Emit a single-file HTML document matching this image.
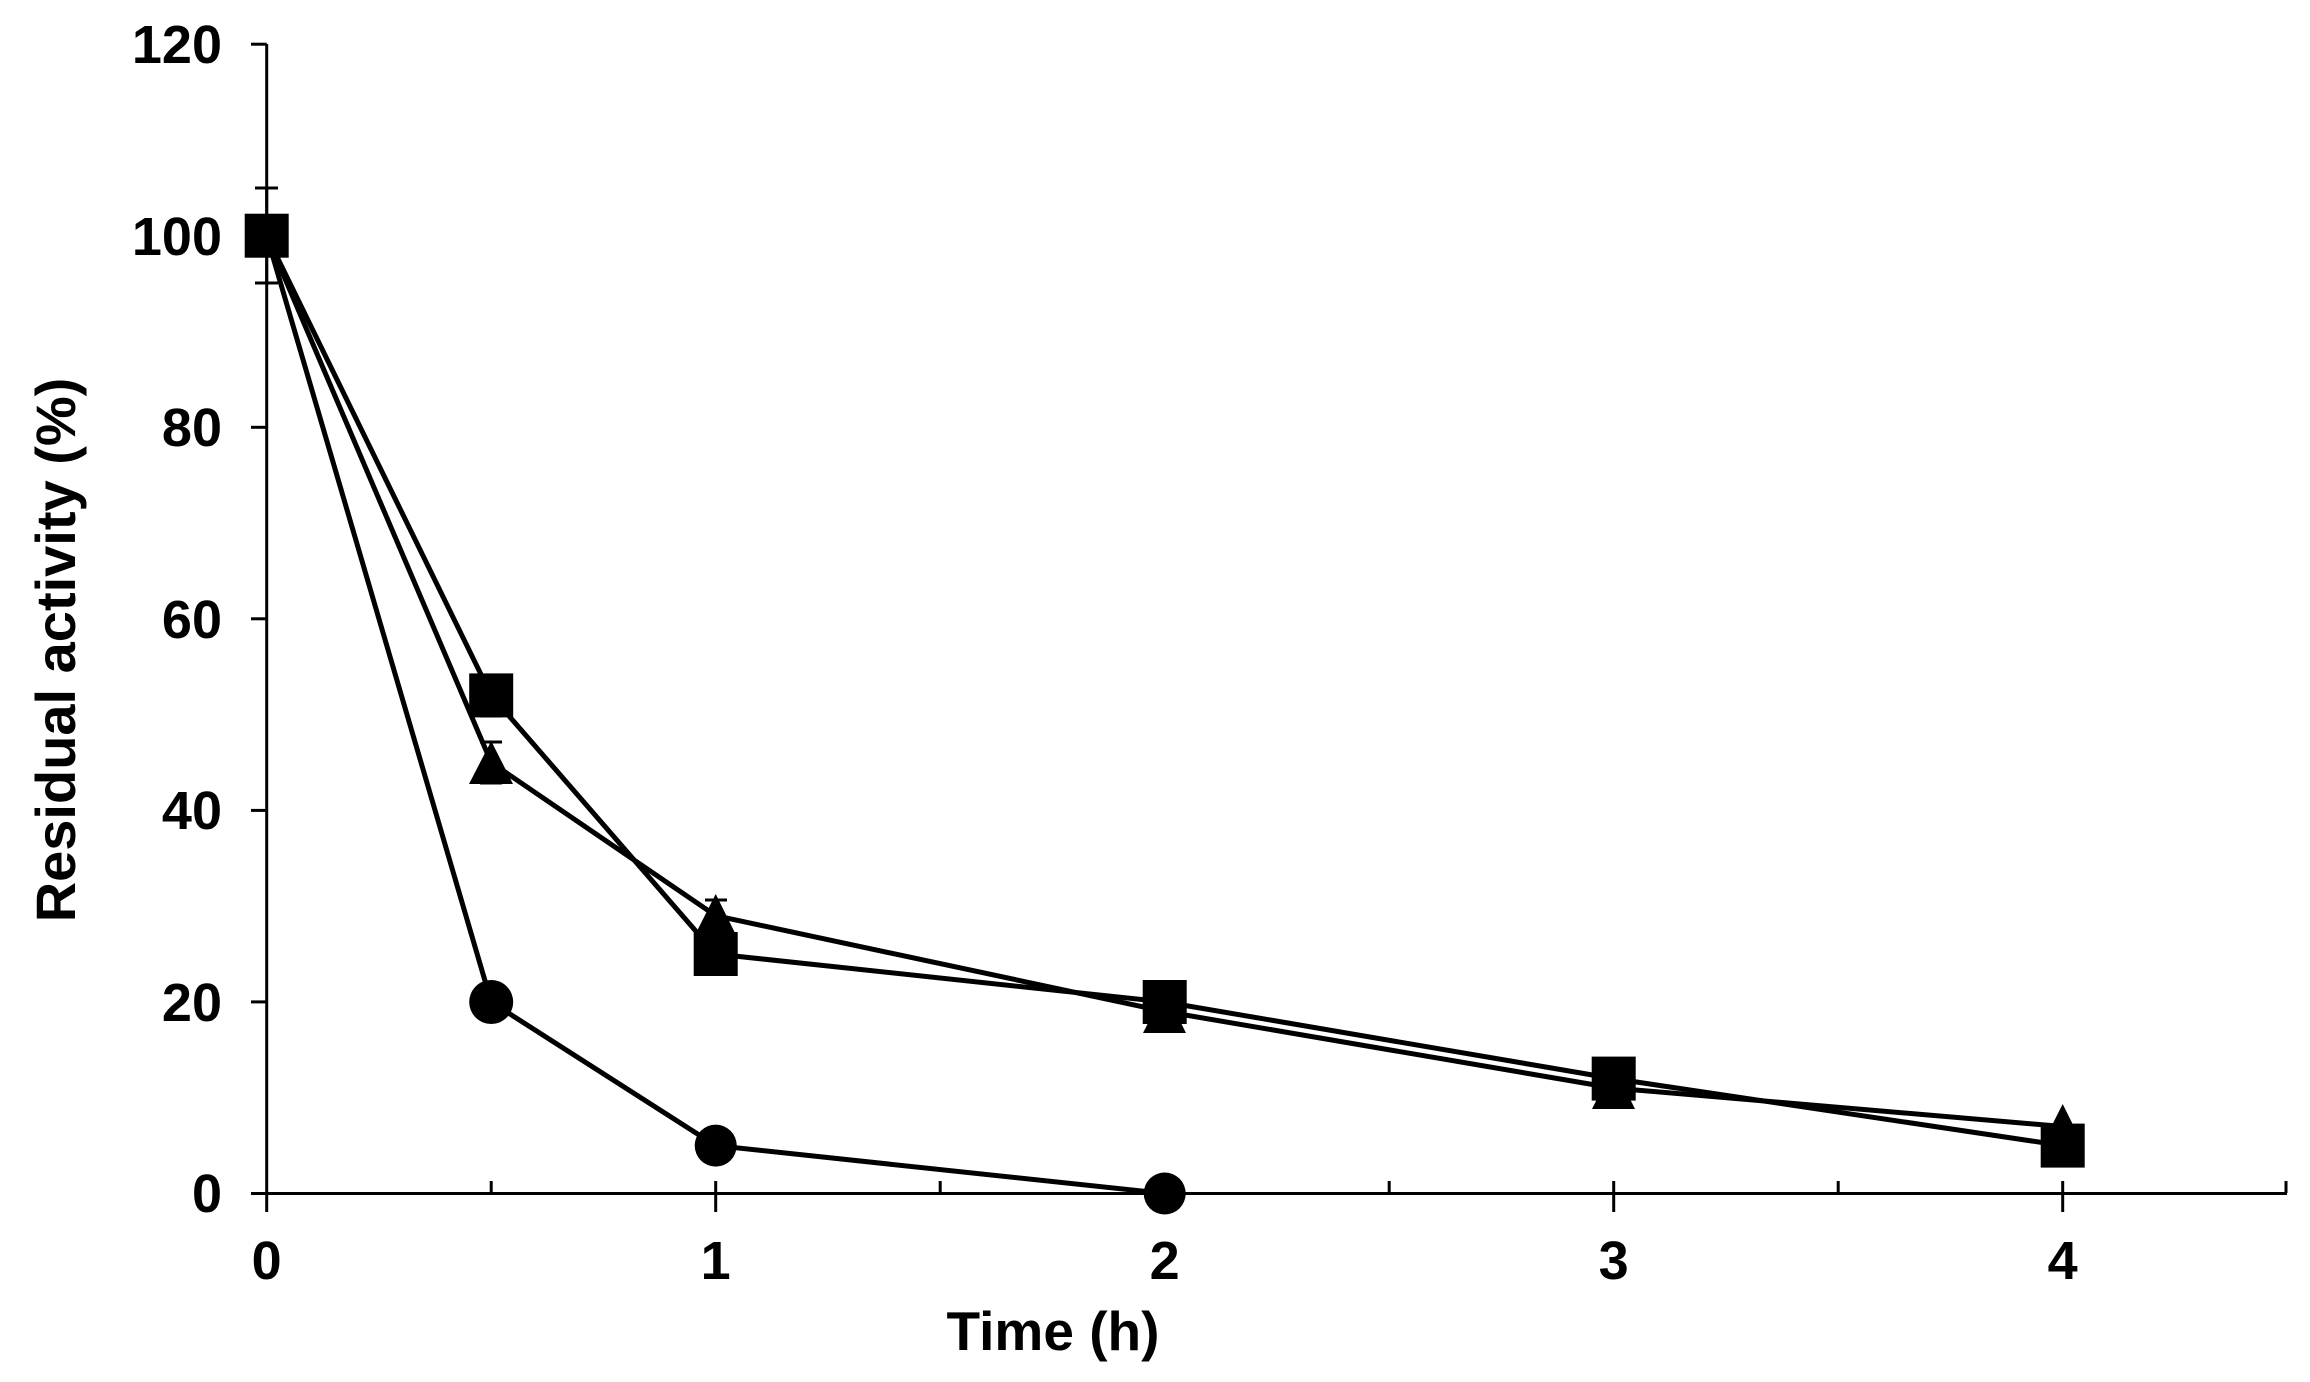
<!DOCTYPE html>
<html><head><style>body{margin:0;background:#fff}svg{display:block}</style></head><body>
<svg width="2310" height="1382" xmlns="http://www.w3.org/2000/svg" font-family="Liberation Sans, Arial, sans-serif" font-weight="bold">
<g stroke="#000" stroke-width="3" fill="none">
<line x1="266.7" y1="44" x2="266.7" y2="1212"/>
<line x1="251" y1="1193.5" x2="2287" y2="1193.5"/>
<line x1="251" y1="44.2" x2="266.7" y2="44.2"/>
<line x1="251" y1="235.7" x2="266.7" y2="235.7"/>
<line x1="251" y1="427.3" x2="266.7" y2="427.3"/>
<line x1="251" y1="618.8" x2="266.7" y2="618.8"/>
<line x1="251" y1="810.4" x2="266.7" y2="810.4"/>
<line x1="251" y1="1001.9" x2="266.7" y2="1001.9"/>
<line x1="715.7" y1="1181" x2="715.7" y2="1212"/>
<line x1="1164.7" y1="1181" x2="1164.7" y2="1212"/>
<line x1="1613.7" y1="1181" x2="1613.7" y2="1212"/>
<line x1="2062.7" y1="1181" x2="2062.7" y2="1212"/>
<line x1="491.2" y1="1181" x2="491.2" y2="1193"/>
<line x1="940.2" y1="1181" x2="940.2" y2="1193"/>
<line x1="1389.2" y1="1181" x2="1389.2" y2="1193"/>
<line x1="1838.2" y1="1181" x2="1838.2" y2="1193"/>
<line x1="2286" y1="1181" x2="2286" y2="1193"/>
<path d="M266.7 188V283 M255 188H278 M255 283H278"/>
<path d="M491.2 676V716 M480 676H502 M480 716H502"/>
<path d="M491.2 742V783 M480 742H502 M480 783H502"/>
<path d="M715.7 900V930 M705 900H727"/>
</g>
<g stroke="#000" stroke-width="5" fill="none">
<polyline points="266.7,235.7 491.2,1002 715.7,1145.6 1164.7,1193.5"/>
<polyline points="266.7,235.7 491.2,762.5 715.7,915.7 1164.7,1011.5 1613.7,1088.1 2062.7,1126.5"/>
<polyline points="266.7,235.7 491.2,695.4 715.7,954 1164.7,1002 1613.7,1078.6 2062.7,1145.6"/>
</g>
<g fill="#000">
<circle cx="491.2" cy="1002" r="22"/>
<circle cx="715.7" cy="1145.6" r="21"/>
<circle cx="1164.7" cy="1193.5" r="21"/>
<path d="M491.2 741L513 784H469Z"/>
<path d="M715.7 894L737 937H694Z"/>
<path d="M1164.7 990L1186 1033H1143Z"/>
<path d="M1613.7 1066L1635 1109H1592Z"/>
<path d="M2062.7 1104L2084 1147H2041Z"/>
<rect x="244.7" y="213.7" width="44" height="44"/>
<rect x="469.2" y="673.4" width="44" height="44"/>
<rect x="693.7" y="932" width="44" height="44"/>
<rect x="1142.7" y="980" width="44" height="44"/>
<rect x="1591.7" y="1056.6" width="44" height="44"/>
<rect x="2040.7" y="1123.6" width="44" height="44"/>
</g>
<g font-size="54" text-anchor="end" fill="#000">
<text x="222" y="63">120</text>
<text x="222" y="255">100</text>
<text x="222" y="446">80</text>
<text x="222" y="638">60</text>
<text x="222" y="829">40</text>
<text x="222" y="1021">20</text>
<text x="222" y="1212">0</text>
</g>
<g font-size="54" text-anchor="middle" fill="#000">
<text x="266.7" y="1279">0</text>
<text x="715.7" y="1279">1</text>
<text x="1164.7" y="1279">2</text>
<text x="1613.7" y="1279">3</text>
<text x="2062.7" y="1279">4</text>
<text x="1053" y="1350" font-size="55">Time (h)</text>
<text transform="translate(75,650) rotate(-90)" font-size="56">Residual activity (%)</text>
</g>
</svg>
</body></html>
